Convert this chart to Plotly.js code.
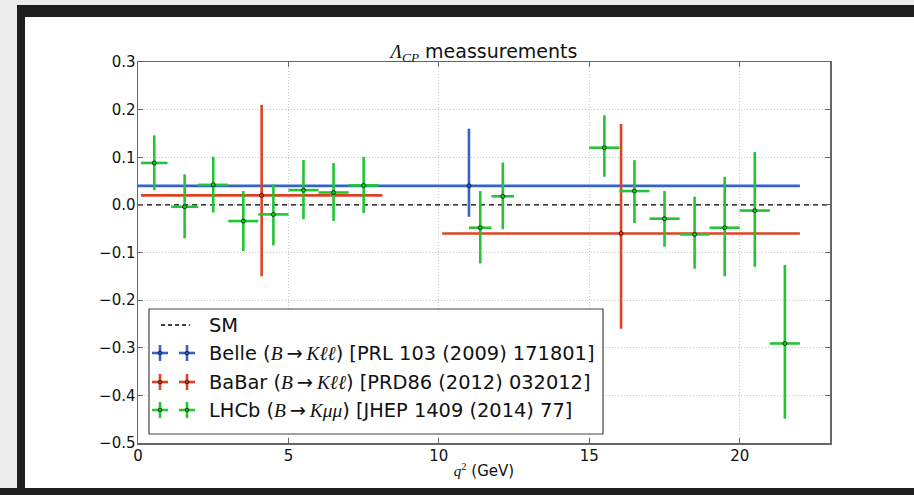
<!DOCTYPE html>
<html><head><meta charset="utf-8">
<script src="https://cdn.plot.ly/plotly-3.0.1.min.js"></script>
<style>html,body{margin:0;padding:0;background:#fff;}#chart{width:914px;height:495px;}</style>
</head><body><div id="chart"></div>
<script>
// ---- data ----
const lhcbBinLo   = [0.1, 1.1, 2, 3, 4, 5, 6, 7, 11, 11.75, 15, 16, 17, 18, 19, 20, 21];
const lhcbBinHi   = [0.98, 2, 3, 4, 5, 6, 7, 8, 11.75, 12.5, 16, 17, 18, 19, 20, 21, 22];
const lhcbACP     = [0.088, -0.004, 0.042, -0.034, -0.020, 0.031, 0.026, 0.041, -0.048, 0.018, 0.120, 0.029, -0.029, -0.062, -0.048, -0.012, -0.291];
const lhcbErrUp   = [0.058, 0.068, 0.059, 0.063, 0.063, 0.063, 0.062, 0.060, 0.077, 0.071, 0.068, 0.065, 0.058, 0.079, 0.107, 0.123, 0.165];
const lhcbErrDown = [0.057, 0.066, 0.058, 0.063, 0.065, 0.061, 0.060, 0.058, 0.075, 0.069, 0.061, 0.067, 0.059, 0.072, 0.102, 0.118, 0.158];

const belleBinLo = [0], belleBinHi = [22];
const belleACP = [0.04], belleErrUp = [0.12], belleErrDown = [0.065];

const babarBinLo = [0.1, 10.11], babarBinHi = [8.12, 22.0];
const babarACP = [0.02, -0.06], babarErrUp = [0.19, 0.23], babarErrDown = [0.17, 0.20];

const smValue = 0;
const xRange = [0, 23];
const yRange = [-0.5, 0.3];
const xTickVals = [0, 5, 10, 15, 20];
const yTickVals = [-0.5, -0.4, -0.3, -0.2, -0.1, 0.0, 0.1, 0.2, 0.3];

const SERIF = 'font-family:Liberation Serif';
const legendLabels = [
  'SM',
  'Belle (<span style="' + SERIF + '"><i>B</i></span>\u2009→\u2009<span style="' + SERIF + '"><i>Kℓℓ</i></span>) [PRL 103 (2009) 171801]',
  'BaBar (<span style="' + SERIF + '"><i>B</i></span>\u2009→\u2009<span style="' + SERIF + '"><i>Kℓℓ</i></span>) [PRD86 (2012) 032012]',
  'LHCb (<span style="' + SERIF + '"><i>B</i></span>\u2009→\u2009<span style="' + SERIF + '"><i>Kμμ</i></span>) [JHEP 1409 (2014) 77]'
];

// ---- styles ----
const cBelle = '#3463c6', cBabar = '#dc4324', cLhcb = '#22c633';
const FONT = 'DejaVu Sans, sans-serif';

const mid = (lo, hi) => lo.map((v, i) => (v + hi[i]) / 2);
const half = (lo, hi) => lo.map((v, i) => (hi[i] - v) / 2);

function errTrace(lo, hi, y, up, down, color, name) {
  return {
    type: 'scatter', mode: 'markers', name: name, showlegend: false,
    x: mid(lo, hi), y: y,
    marker: {size: 4, color: color, line: {color: 'rgba(0,0,0,0.7)', width: 1}},
    error_x: {type: 'data', symmetric: true, array: half(lo, hi), color: color, thickness: 2.6, width: 0},
    error_y: {type: 'data', symmetric: false, array: up, arrayminus: down, color: color, thickness: 2.6, width: 0},
    hoverinfo: 'x+y'
  };
}

const traces = [
  {type: 'scatter', mode: 'lines', x: xRange, y: xRange.map(() => smValue), showlegend: false,
   line: {color: '#000', width: 1.3, dash: '5px,4px'}, name: 'SM'},
  errTrace(belleBinLo, belleBinHi, belleACP, belleErrUp, belleErrDown, cBelle, 'Belle'),
  errTrace(babarBinLo, babarBinHi, babarACP, babarErrUp, babarErrDown, cBabar, 'BaBar'),
  errTrace(lhcbBinLo, lhcbBinHi, lhcbACP, lhcbErrUp, lhcbErrDown, cLhcb, 'LHCb')
];

// ---- layout geometry (pixels -> paper) ----
const L = 138, T = 62, W = 692, H = 381;
const pxX = p => (p - L) / W;
const pxY = p => (T + H - p) / H;

const shapes = [];
const annotations = [];

// window frame
const frameDark = '#1e1e1e', frameLight = '#ececec';
shapes.push({type: 'rect', xref: 'paper', yref: 'paper', x0: pxX(0), x1: pxX(914), y0: pxY(0), y1: pxY(5), fillcolor: frameLight, line: {width: 0}, layer: 'above'});
shapes.push({type: 'rect', xref: 'paper', yref: 'paper', x0: pxX(0), x1: pxX(17), y0: pxY(0), y1: pxY(495), fillcolor: frameLight, line: {width: 0}, layer: 'above'});
shapes.push({type: 'rect', xref: 'paper', yref: 'paper', x0: pxX(17), x1: pxX(914), y0: pxY(5), y1: pxY(17), fillcolor: frameDark, line: {width: 0}, layer: 'above'});
shapes.push({type: 'rect', xref: 'paper', yref: 'paper', x0: pxX(17), x1: pxX(25), y0: pxY(5), y1: pxY(495), fillcolor: frameDark, line: {width: 0}, layer: 'above'});
shapes.push({type: 'rect', xref: 'paper', yref: 'paper', x0: pxX(0), x1: pxX(914), y0: pxY(488), y1: pxY(495), fillcolor: frameDark, line: {width: 0}, layer: 'above'});

// custom legend
shapes.push({type: 'rect', xref: 'paper', yref: 'paper', x0: pxX(149), x1: pxX(603), y0: pxY(434), y1: pxY(309),
  fillcolor: '#fff', line: {color: '#444', width: 1.2}, layer: 'above'});
const rows = [325, 353, 382, 410];
shapes.push({type: 'line', xref: 'paper', yref: 'paper', x0: pxX(161), x1: pxX(190), y0: pxY(rows[0]), y1: pxY(rows[0]),
  line: {color: '#000', width: 1.3, dash: '4px,3px'}, layer: 'above'});
const legColors = [cBelle, cBabar, cLhcb];
legColors.forEach((c, i) => {
  const yc = rows[i + 1];
  [160, 187].forEach(xc => {
    shapes.push({type: 'line', xref: 'paper', yref: 'paper', x0: pxX(xc - 8), x1: pxX(xc + 8), y0: pxY(yc), y1: pxY(yc), line: {color: c, width: 2.6}, layer: 'above'});
    shapes.push({type: 'line', xref: 'paper', yref: 'paper', x0: pxX(xc), x1: pxX(xc), y0: pxY(yc - 8), y1: pxY(yc + 8), line: {color: c, width: 2.6}, layer: 'above'});
    shapes.push({type: 'circle', xref: 'paper', yref: 'paper', x0: pxX(xc - 1.8), x1: pxX(xc + 1.8), y0: pxY(yc - 1.8), y1: pxY(yc + 1.8), fillcolor: c, line: {color: 'rgba(0,0,0,0.7)', width: 1}, layer: 'above'});
  });
});
legendLabels.forEach((t, i) => {
  annotations.push({xref: 'paper', yref: 'paper', x: pxX(207), y: pxY(rows[i]), xanchor: 'left', yanchor: 'middle',
    text: t, showarrow: false, font: {family: FONT, size: 19.4, color: '#111'}});
});

const axisCommon = {
  showgrid: true, gridcolor: '#c8c8c8', griddash: '1px,2px', gridwidth: 1, zeroline: false,
  showline: true, linecolor: '#666', linewidth: 1.5, mirror: 'allticks',
  ticks: 'inside', ticklen: 5, tickcolor: '#666', tickwidth: 1,
  tickfont: {family: FONT, size: 15, color: '#111'}
};

const layout = {
  width: 914, height: 495,
  margin: {l: L, r: 914 - L - W, t: T, b: 495 - T - H, pad: 0},
  paper_bgcolor: '#fff', plot_bgcolor: '#fff',
  font: {family: FONT, size: 15, color: '#111'},
  title: {text: '<span style="' + SERIF + '"><i>Λ</i><sub><i>CP</i></sub></span> meassurements',
    x: 0.5, xref: 'paper', xanchor: 'center', y: 1, yref: 'paper', yanchor: 'bottom', pad: {b: 4},
    font: {family: FONT, size: 19, color: '#111'}},
  xaxis: Object.assign({}, axisCommon, {range: xRange, tickvals: xTickVals, ticktext: xTickVals.map(v => String(v)),
    ticklabelstandoff: -2,
    title: {text: '<span style="' + SERIF + '"><i>q</i><sup>2</sup></span> (GeV)', standoff: 2,
      font: {family: FONT, size: 15, color: '#111'}}}),
  yaxis: Object.assign({}, axisCommon, {range: yRange, tickvals: yTickVals, tickformat: '.1f', ticklabelstandoff: -2}),
  shapes: shapes, annotations: annotations, showlegend: false
};

Plotly.newPlot('chart', traces, layout, {displayModeBar: false, staticPlot: true});
</script></body></html>
